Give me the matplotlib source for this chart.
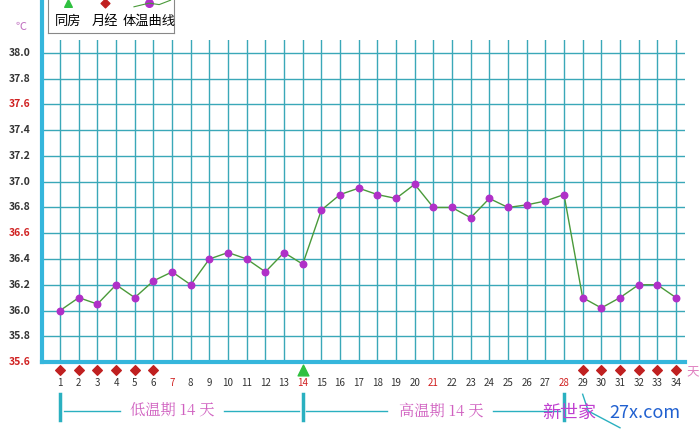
import matplotlib
matplotlib.use("Agg")
import matplotlib.pyplot as plt

plt.rcParams['font.family'] = ['Noto Sans CJK SC', 'DejaVu Sans']

days = list(range(1, 35))
temps = [36.0, 36.1, 36.05, 36.2, 36.1, 36.23, 36.3, 36.2, 36.4, 36.45, 36.4, 36.3,
         36.45, 36.36, 36.78, 36.9, 36.95, 36.9, 36.87, 36.98, 36.8, 36.8, 36.72,
         36.87, 36.8, 36.82, 36.85, 36.9, 36.1, 36.02, 36.1, 36.2, 36.2, 36.1]
period_days = [1, 2, 3, 4, 5, 6, 29, 30, 31, 32, 33, 34]
sex_days = [14]
red_days = [7, 14, 21, 28]
yticks = [35.6, 35.8, 36.0, 36.2, 36.4, 36.6, 36.8, 37.0, 37.2, 37.4, 37.6, 37.8, 38.0]
red_yticks = [35.6, 36.6, 37.6]

fig = plt.figure(figsize=(7, 4.3), dpi=100)
ax = fig.add_axes([0.06, 0.158, 0.919, 0.749])
ax.set_xlim(0.03, 34.5)
ax.set_ylim(35.6, 38.1)
grid_c = '#3aa8b8'
for d in days:
    ax.axvline(d, color=grid_c, lw=1)
for t in yticks[1:]:
    ax.axhline(t, color=grid_c, lw=1)
for s in ['top', 'right']:
    ax.spines[s].set_visible(False)
ax.spines['left'].set_color('#35b6dc'); ax.spines['left'].set_linewidth(3)
ax.spines['bottom'].set_color('#35b6dc'); ax.spines['bottom'].set_linewidth(3)
ax.spines['left'].set_bounds(35.6, 38.45)
ax.set_xticks([]); ax.set_yticks([])

ax.plot(days, temps, color='#4a9a3a', lw=1, zorder=3)
ax.scatter(days, temps, s=22, color='#b030c8', zorder=4)

for t in yticks:
    c = '#d02020' if t in red_yticks else '#333333'
    ax.text(-0.6, t, f"{t:.1f}", ha='right', va='center', fontsize=7.5, color=c,
            fontweight='bold', transform=ax.transData, clip_on=False)
ax.text(-0.8, 38.2, '℃', ha='right', va='center', fontsize=8, color='#c070c0')

ax.scatter(period_days, [35.54]*len(period_days), marker='D', s=24, color='#c02020',
           clip_on=False, zorder=5)
ax.scatter(sex_days, [35.535], marker='^', s=60, color='#30c040', clip_on=False, zorder=5)
for d in days:
    c = '#d02020' if d in red_days else '#333333'
    ax.text(d, 35.44, str(d), ha='center', va='center', fontsize=7, color=c, clip_on=False)
ax.text(34.9, 35.52, '天', ha='center', va='center', fontsize=9, color='#e080c0', clip_on=False)

lc = '#2ab0c0'
yb = 35.27
for x in [1, 14, 28]:
    ax.plot([x, x], [yb - 0.12, yb + 0.08], color=lc, lw=2.5, clip_on=False)
ax.plot([1.2, 4.2], [yb - 0.05, yb - 0.05], color=lc, lw=1, clip_on=False)
ax.plot([9.8, 13.8], [yb - 0.05, yb - 0.05], color=lc, lw=1, clip_on=False)
ax.plot([14.2, 18.5], [yb - 0.05, yb - 0.05], color=lc, lw=1, clip_on=False)
ax.plot([24.2, 27.8], [yb - 0.05, yb - 0.05], color=lc, lw=1, clip_on=False)
ax.plot([29, 29.3, 31], [yb + 0.08, yb - 0.05, yb - 0.18], color=lc, lw=1, clip_on=False)
ax.text(7.0, yb - 0.05, '低温期 14 天', ha='center', va='center', fontsize=11,
        color='#d060c0', family=['Noto Serif CJK SC', 'Noto Sans CJK SC'], clip_on=False)
ax.text(21.4, yb - 0.05, '高温期 14 天', ha='center', va='center', fontsize=11,
        color='#d060c0', family=['Noto Serif CJK SC', 'Noto Sans CJK SC'], clip_on=False)
fig.text(0.775, 0.04, '新世家', fontsize=13, color='#c040d0', ha='left', va='center')
fig.text(0.87, 0.04, '27x.com', fontsize=13, color='#2060d0', ha='left', va='center')

lg = fig.add_axes([0.069, 0.923, 0.18, 0.085])
lg.set_xlim(0, 1); lg.set_ylim(0, 1)
lg.set_xticks([]); lg.set_yticks([])
for s in lg.spines.values():
    s.set_color('#888888'); s.set_linewidth(0.8)
lg.spines['top'].set_visible(False)
lg.scatter([0.16], [0.82], marker='^', s=30, color='#30c040')
lg.scatter([0.45], [0.82], marker='D', s=20, color='#c02020')
lg.plot([0.68, 0.8, 0.88, 0.97], [0.72, 0.82, 0.78, 0.9], color='#4a9a3a', lw=0.8)
lg.scatter([0.8], [0.82], s=30, color='#b030c8')
lg.text(0.16, 0.33, '同房', ha='center', va='center', fontsize=9.5)
lg.text(0.45, 0.33, '月经', ha='center', va='center', fontsize=9.5)
lg.text(0.8, 0.33, '体温曲线', ha='center', va='center', fontsize=9.5)

fig.savefig('out.png', dpi=100)
